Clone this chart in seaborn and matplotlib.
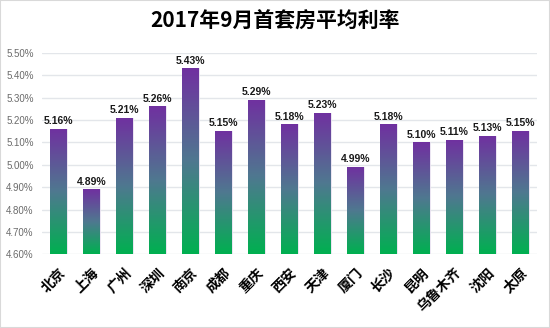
import numpy as np
import pandas as pd
import matplotlib
matplotlib.use("Agg")
import matplotlib.pyplot as plt
from matplotlib.colors import LinearSegmentedColormap
from matplotlib.patches import Rectangle
import seaborn as sns

cities = ["北京", "上海", "广州", "深圳", "南京", "成都", "重庆", "西安", "天津",
          "厦门", "长沙", "昆明", "乌鲁木齐", "沈阳", "太原"]
rates = [5.16, 4.89, 5.21, 5.26, 5.43, 5.15, 5.29, 5.18, 5.23,
         4.99, 5.18, 5.10, 5.11, 5.13, 5.15]
yticks = [4.60, 4.70, 4.80, 4.90, 5.00, 5.10, 5.20, 5.30, 5.40, 5.50]
title = "2017年9月首套房平均利率"

sns.set_style("white")
plt.rcParams["font.family"] = ["Noto Sans CJK SC", "DejaVu Sans"]

df = pd.DataFrame({"city": cities, "rate": rates})

fig = plt.figure(figsize=(5.5, 3.28), dpi=100)
ax = fig.add_axes([0.0764, 0.2247, 0.976 - 0.0764, 0.8393 - 0.2247])

sns.barplot(data=df, x="city", y="rate", ax=ax, width=0.5, color="#7030A0",
            edgecolor="none", zorder=3)

ax.set_ylim(4.60, 5.50)
ax.set_xlim(-0.5, len(cities) - 0.5)
ax.set_yticks(yticks)
ax.set_yticklabels([f"{v:.2f}%" for v in yticks], fontsize=7, color="#6b6b6b",
                   family=["Liberation Sans", "DejaVu Sans"])
ax.yaxis.grid(True, color="#E3E6EA", linewidth=1.0, zorder=0)
ax.xaxis.grid(False)
for s in ax.spines.values():
    s.set_visible(False)
ax.tick_params(axis="both", length=0)
ax.tick_params(axis="y", pad=6)
ax.set_xlabel("")
ax.set_ylabel("")

cmap = LinearSegmentedColormap.from_list("pg", ["#00B050", "#4F7890", "#7030A0"])
grad = np.linspace(0, 1, 256).reshape(-1, 1)
for p in ax.patches:
    x0, y0 = p.get_x(), p.get_y()
    w, h = p.get_width(), p.get_height()
    im = ax.imshow(grad, extent=(x0, x0 + w, 4.60, y0 + h), origin="lower",
                   cmap=cmap, aspect="auto", zorder=3)
    im.set_clip_path(p)
    p.set_facecolor("none")
    p.set_edgecolor("#E8E0F0")
    p.set_linewidth(0.6)

ax.set_ylim(4.60, 5.50)
ax.set_xlim(-0.5, len(cities) - 0.5)

for i, v in enumerate(rates):
    ax.annotate(f"{v:.2f}%", (i, v), xytext=(0, 2), textcoords="offset points",
                ha="center", va="bottom", fontsize=7.5, fontweight="bold",
                color="#1a1a1a", family=["Liberation Sans", "DejaVu Sans"], zorder=5)

ax.set_xticks(range(len(cities)))
ax.set_xticklabels(cities, rotation=45, ha="right", rotation_mode="anchor",
                   fontsize=10, fontweight="bold", color="black")
ax.tick_params(axis="x", pad=8)

fig.text(0.5, 0.935, title, ha="center", va="center", fontsize=15,
         fontweight="bold", color="black")

fig.patches.append(Rectangle((0, 0), 1, 1, transform=fig.transFigure,
                             fill=False, edgecolor="#D9D9D9", linewidth=1.5))

fig.savefig("out.png", dpi=100)
